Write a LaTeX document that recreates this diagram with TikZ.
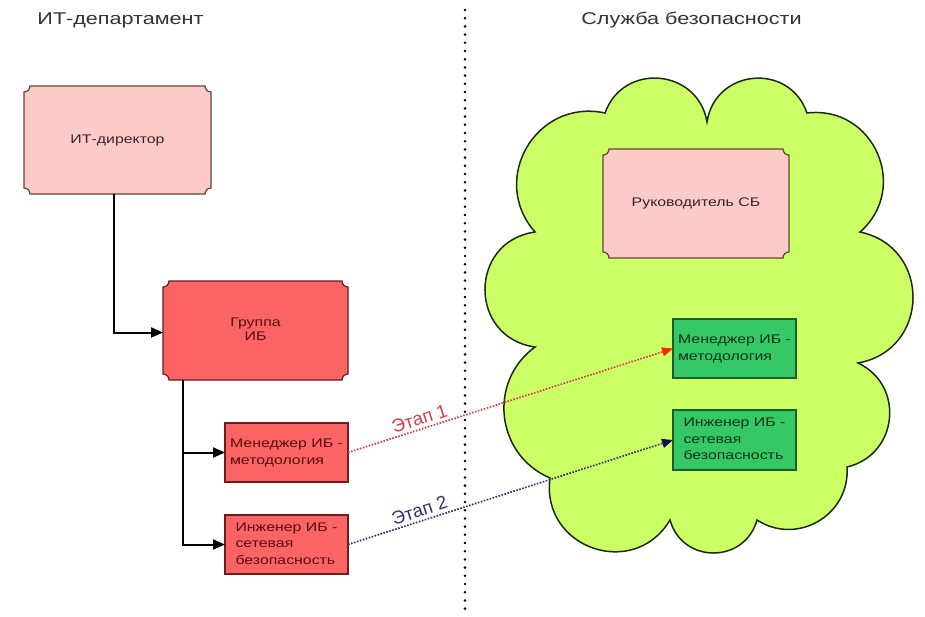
\documentclass[tikz,border=0pt]{standalone}
\usepackage{fontspec}
\setmainfont{Liberation Sans}
\usepackage{graphicx}
\usetikzlibrary{arrows.meta}

\definecolor{titlegray}{HTML}{333333}
\definecolor{pinkfill}{HTML}{FDCACA}
\definecolor{pinkframe}{HTML}{5A4636}
\definecolor{pinktext}{HTML}{3E2226}
\definecolor{salmon}{HTML}{FA6464}
\definecolor{redframe}{HTML}{6E1C1C}
\definecolor{redtext}{HTML}{5A0C0C}
\definecolor{boxgreen}{HTML}{36C766}
\definecolor{greenframe}{HTML}{1E5E2A}
\definecolor{greentext}{HTML}{0C3418}
\definecolor{cloudfill}{HTML}{CCFF66}
\definecolor{cloudline}{HTML}{1C2A10}
\definecolor{stageone}{HTML}{D0404A}
\definecolor{tipone}{HTML}{FF2A00}
\definecolor{stagetwo}{HTML}{33336E}
\definecolor{tiptwo}{HTML}{0A0A55}

% horizontally widened text
\newcommand\wide[1]{\scalebox{1.27}[1]{#1}}
\newcommand\lstack[1]{\wide{\begin{tabular}{@{}l@{}}#1\end{tabular}}}
\newcommand\cstack[1]{\wide{\begin{tabular}{@{}c@{}}#1\end{tabular}}}

% frame with concave (notched) corners around a node
\newcommand\nr{6pt}
\newcommand\notchframe[2]{%
  \draw[#2] ([xshift=\nr]#1.north west) -- ([xshift=-\nr]#1.north east)
    arc[start angle=180,end angle=270,radius=\nr]
    -- ([yshift=\nr]#1.south east)
    arc[start angle=90,end angle=180,radius=\nr]
    -- ([xshift=\nr]#1.south west)
    arc[start angle=0,end angle=90,radius=\nr]
    -- ([yshift=-\nr]#1.north west)
    arc[start angle=270,end angle=360,radius=\nr]
    -- cycle;}

\pgfdeclarelayer{cloudlayer}
\pgfdeclarelayer{framelayer}
\pgfsetlayers{cloudlayer,framelayer,main}

\begin{document}
\begin{tikzpicture}[x=1pt, y=-1pt,
  every node/.style={inner sep=0pt, outer sep=0pt},
  title/.style={font=\fontsize{17}{20}\selectfont, text=titlegray},
  boxtext/.style={font=\fontsize{12.5}{16.5}\selectfont},
  notchbox/.style={boxtext, text=pinktext},
  pinkframestyle/.style={fill=pinkfill, draw=pinkframe, line width=1.2pt},
  redframestyle/.style={fill=salmon, draw=redframe, line width=1.2pt},
  plainbox/.style={draw, line width=1.2pt, minimum width=123pt, minimum height=59pt, boxtext},
  redbox/.style={plainbox, fill=salmon, draw=redframe, text=redtext},
  greenbox/.style={plainbox, fill=boxgreen, draw=greenframe, text=greentext},
  conn/.style={line width=2pt, black, -{Triangle[length=12pt,width=10pt]}},
  stagelabel/.style={font=\fontsize{18.5}{22}\selectfont, inner sep=4pt},
  stageA/.style={line width=1.7pt, dash pattern=on 1.6pt off 1.5pt, stageone,
    -{Triangle[length=11pt,width=9pt,color=tipone]}},
  stageB/.style={line width=1.7pt, dash pattern=on 1.6pt off 1.5pt, stagetwo,
    -{Triangle[length=11pt,width=9pt,color=tiptwo]}},
  separator/.style={line width=2.8pt, line cap=round, dash pattern=on 0pt off 8.2pt}
]
\useasboundingbox (0,0) rectangle (925,616);

% security service cloud
\begin{pgfonlayer}{cloudlayer}
\fill[white] (0,0) rectangle (925,616);
\draw[fill=cloudfill, draw=cloudline, line width=1.5pt, line join=miter]
  (605,113)
  .. controls (623.2,61.9) and (698,68.5) .. (707,122)
  .. controls (715.2,68.6) and (789.4,62) .. (807,113)
  .. controls (873.5,105.1) and (910.3,187.9) .. (860,232)
  .. controls (931.8,247.1) and (930.2,350.1) .. (858,363)
  .. controls (905.4,385.4) and (898,455) .. (847,467)
  .. controls (850.3,514.9) and (797.3,546.1) .. (757,520)
  .. controls (744.7,564) and (682.3,564) .. (670,520)
  .. controls (633.9,580.6) and (540.5,548) .. (550,478)
  .. controls (495.9,454.9) and (487.5,381.7) .. (535,347)
  .. controls (468.3,337.6) and (468.3,241.4) .. (535,232)
  .. controls (488.6,179.3) and (536.4,98.1) .. (605,113)
  -- cycle;
\end{pgfonlayer}

% headings
\node[title] (titleL) at (120.5,20) {\wide{ИТ-департамент}};
\node[title] (titleR) at (691.5,20) {\wide{Служба безопасности}};

% dotted separator
\coordinate (sepTop) at (465,10);
\coordinate (sepBot) at (465,616);
\draw[separator] (sepTop) -- (sepBot);

% IT department
\node[notchbox, minimum width=187pt, minimum height=108pt] (dir) at (117.5,140) {\wide{ИТ-директор}};
\node[notchbox, text=redtext, minimum width=185pt, minimum height=99pt,
      font=\fontsize{12.5}{14}\selectfont] (grp) at (255.5,330.5) {\cstack{Группа\\ИБ}};
\node[redbox] (mgrL) at (286.5,452.5) {\lstack{Менеджер ИБ -\\методология}};
\node[redbox] (engL) at (286.5,544.5) {\lstack{Инженер ИБ -\\сетевая\\безопасность}};

% security service
\node[notchbox, minimum width=186pt, minimum height=109pt] (head) at (696,203.5) {\wide{Руководитель СБ}};
\node[greenbox] (mgrR) at (734.5,348.5) {\lstack{Менеджер ИБ -\\методология}};
\node[greenbox, minimum height=60pt] (engR) at (734.5,440) {\lstack{Инженер ИБ -\\сетевая\\безопасность}};

\begin{pgfonlayer}{framelayer}
\notchframe{dir}{pinkframestyle}
\notchframe{grp}{redframestyle}
\notchframe{head}{pinkframestyle}
\end{pgfonlayer}

% reporting lines
\draw[conn] ([xshift=-4pt]dir.south) |- ([yshift=-2pt]grp.west);
\draw[conn] ([xshift=20pt]grp.south west) |- (mgrL.west);
\draw[conn] ([xshift=20pt]grp.south west) |- (engL.west);

% transfer stages
\draw[stageA] (mgrL.east) -- (mgrR.west)
  node[stagelabel, pos=0.23, above, sloped, text=stageone] {Этап 1};
\draw[stageB] (engL.east) -- (engR.west)
  node[stagelabel, pos=0.23, above, sloped, text=stagetwo] {Этап 2};
\end{tikzpicture}
\end{document}
